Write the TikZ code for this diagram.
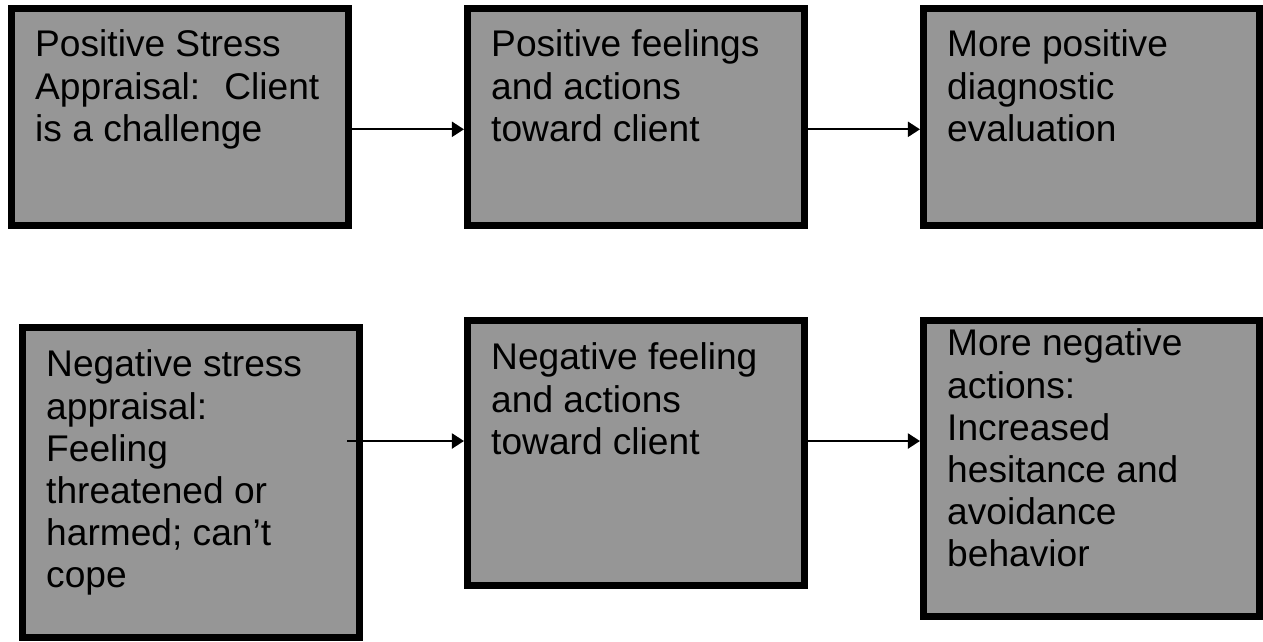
\documentclass[tikz,border=0pt]{standalone}
\usepackage{fontspec}
\setmainfont{Liberation Sans}
\usepackage{tikz}
\usepackage{xcolor}
\usetikzlibrary{arrows.meta}
\definecolor{box-gray}{RGB}{150,150,150}
\tikzset{
    stress-box/.style = {draw=black, fill=box-gray, line width=0.175cm, rectangle, inner sep=0pt, minimum width=8.425cm},
    stress-box-text/.style = {anchor=base west, inner sep=0pt, font=\fontsize{26.4}{30}\selectfont},
    flow-arrow/.style = {line width=0.05cm, -{Triangle[length=0.3cm,width=0.375cm]}},
}

\begin{document}
\begin{tikzpicture}[x=0.025cm, y=-0.025cm]
\useasboundingbox (0,0) rectangle (1263,641);
% top row: positive appraisal
\node [stress-box, minimum height=5.425cm] (pos-appraisal) at (180,117) {};
\node [stress-box, minimum height=5.425cm] (pos-feeling) at (636,117) {};
\node [stress-box, minimum height=5.425cm, minimum width=8.4cm] (pos-evaluation) at (1091.5,117) {};
\node [stress-box-text] (pos-appraisal-text) at ([shift={(27,52)}]pos-appraisal.north west) {\begin{minipage}[t]{7.5cm}\raggedright
    Positive Stress\\Appraisal:~ Client\\is a challenge
\end{minipage}};
\node [stress-box-text] (pos-feeling-text) at ([shift={(27,52)}]pos-feeling.north west) {\begin{minipage}[t]{7.5cm}\raggedright
    Positive feelings\\and actions\\toward client
\end{minipage}};
\node [stress-box-text] (pos-evaluation-text) at ([shift={(27,52)}]pos-evaluation.north west) {\begin{minipage}[t]{7.5cm}\raggedright
    More positive\\diagnostic\\evaluation
\end{minipage}};
% bottom row: negative appraisal
\node [stress-box, minimum height=7.75cm] (neg-appraisal) at (191,482.5) {};
\node [stress-box, minimum height=6.625cm] (neg-feeling) at (636,453) {};
\node [stress-box, minimum height=7.4cm, minimum width=8.4cm] (neg-actions) at (1091.5,468.5) {};
\node [stress-box-text] (neg-appraisal-text) at ([shift={(27,53)}]neg-appraisal.north west) {\begin{minipage}[t]{7.5cm}\raggedright
    Negative stress\\appraisal:\\Feeling\\threatened or\\harmed; can’t\\cope
\end{minipage}};
\node [stress-box-text] (neg-feeling-text) at ([shift={(27,53)}]neg-feeling.north west) {\begin{minipage}[t]{7.5cm}\raggedright
    Negative feeling\\and actions\\toward client
\end{minipage}};
\node [stress-box-text] (neg-actions-text) at ([shift={(27,39)}]neg-actions.north west) {\begin{minipage}[t]{7.5cm}\raggedright
    More negative\\actions:\\Increased\\hesitance and\\avoidance\\behavior
\end{minipage}};
% arrows
\coordinate (row-top) at (0,129.3);
\coordinate (row-bottom) at (0,441);
\draw [flow-arrow] (pos-appraisal.east |- row-top) -- (pos-feeling.west |- row-top);
\draw [flow-arrow] (pos-feeling.east |- row-top) -- (pos-evaluation.west |- row-top);
\draw [flow-arrow] ([xshift=-0.4cm]neg-appraisal.east |- row-bottom) -- (neg-feeling.west |- row-bottom);
\draw [flow-arrow] (neg-feeling.east |- row-bottom) -- (neg-actions.west |- row-bottom);
\end{tikzpicture}
\end{document}
